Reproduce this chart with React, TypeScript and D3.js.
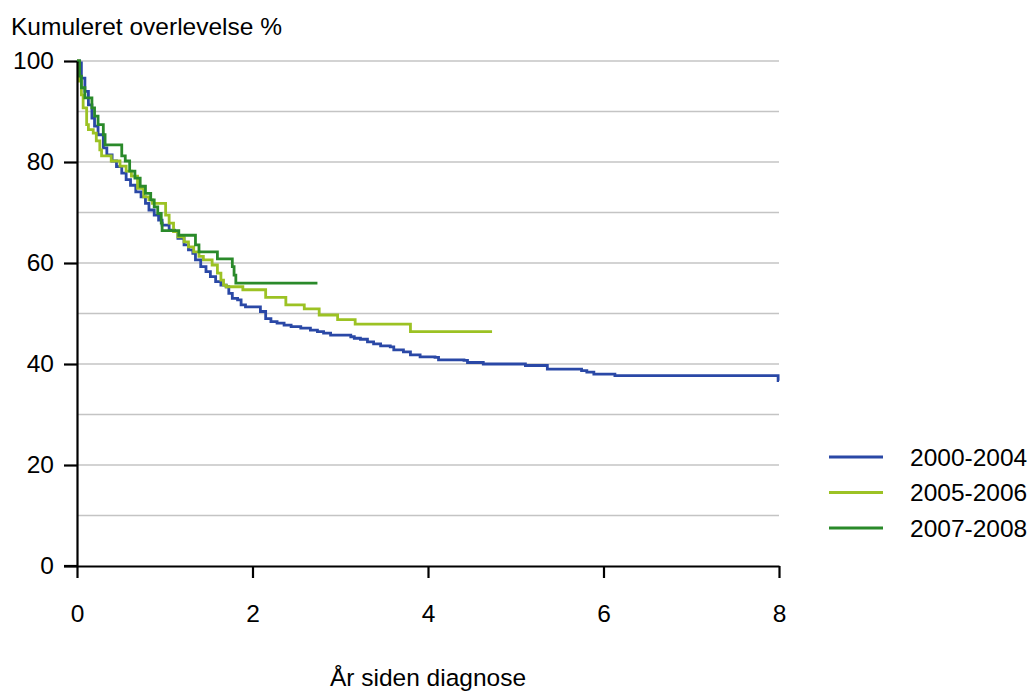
import React, { useEffect, useRef } from "react";
import * as d3 from "d3";

// Kaplan-Meier step data (years since diagnosis, survival %)
const timeA = [0, 0.03, 0.05, 0.09, 0.13, 0.17, 0.2, 0.24, 0.3, 0.34, 0.4, 0.45, 0.51, 0.56, 0.61, 0.67, 0.73, 0.78, 0.82, 0.88, 0.93, 0.97, 1.05, 1.11, 1.15, 1.22, 1.27, 1.32, 1.35, 1.41, 1.47, 1.52, 1.58, 1.64, 1.7, 1.73, 1.77, 1.83, 1.87, 1.92, 2.09, 2.15, 2.21, 2.28, 2.36, 2.44, 2.55, 2.66, 2.74, 2.81, 2.89, 3.12, 3.16, 3.23, 3.31, 3.38, 3.46, 3.57, 3.61, 3.72, 3.8, 3.91, 4.08, 4.12, 4.41, 4.45, 4.63, 5.11, 5.36, 5.75, 5.81, 5.89, 6.13, 7.99, 8.0];
const survA = [100, 99.6, 96.6, 94, 91.3, 88.7, 87.1, 85.4, 82.8, 81.4, 80.2, 79.1, 77.8, 76.5, 75.4, 74.1, 73.1, 71.8, 70.5, 69.5, 68.5, 67.5, 66.5, 66.2, 64.9, 63.6, 62.6, 61.9, 60.6, 59.3, 58.3, 57.3, 56.3, 55.6, 55.3, 54.0, 53.0, 52.7, 51.7, 51.3, 50.4, 49.0, 48.4, 48.1, 47.7, 47.4, 47.1, 46.7, 46.4, 46.1, 45.7, 45.4, 45.1, 44.9, 44.4, 44.0, 43.6, 43.4, 42.8, 42.4, 41.8, 41.4, 41.3, 40.8, 40.7, 40.3, 40.0, 39.7, 39.0, 38.7, 38.4, 38.0, 37.7, 36.7, 36.7];

const timeB = [0, 0.02, 0.05, 0.07, 0.11, 0.13, 0.185, 0.22, 0.26, 0.28, 0.39, 0.49, 0.56, 0.62, 0.69, 0.76, 0.82, 0.86, 1.01, 1.05, 1.1, 1.15, 1.22, 1.27, 1.33, 1.39, 1.44, 1.54, 1.6, 1.64, 1.67, 1.7, 1.89, 2.15, 2.38, 2.59, 2.76, 2.97, 3.17, 3.8, 4.73];
const survB = [100, 96, 93.3, 90.7, 87.4, 86.4, 85.7, 84.2, 82.4, 81.2, 80.2, 79.2, 78.2, 77.2, 74.8, 73.1, 72.5, 71.8, 69.5, 67.9, 66.2, 65.2, 64.2, 63.2, 62.2, 61.3, 60.6, 59.6, 58.0, 56.6, 55.6, 55.3, 54.7, 53.2, 51.7, 50.9, 49.7, 48.8, 47.9, 46.4, 46.4];

const timeC = [0, 0.03, 0.05, 0.09, 0.17, 0.2, 0.24, 0.3, 0.32, 0.51, 0.55, 0.6, 0.66, 0.72, 0.78, 0.84, 0.88, 0.92, 0.96, 0.97, 1.16, 1.35, 1.39, 1.6, 1.77, 1.79, 1.81, 2.74];
const survC = [100, 97, 94.7, 92.7, 90.7, 89.1, 87.4, 85.4, 83.4, 81.2, 80.2, 78.2, 76.8, 75.2, 73.8, 72.5, 71.1, 69.8, 67.9, 66.4, 65.5, 63.6, 62.2, 60.8, 59.3, 57.6, 56.0, 56.0];

const seriesNames = ["2000-2004", "2005-2006", "2007-2008"];
const seriesColors = ["#2a48a6", "#9cc224", "#2a8a2a"];
const xTicks = [0, 2, 4, 6, 8];
const yTicks = [0, 20, 40, 60, 80, 100];
const gridValues = [10, 20, 30, 40, 50, 60, 70, 80, 90, 100];

const App: React.FC = () => {
  const ref = useRef<SVGSVGElement | null>(null);

  useEffect(() => {
    const svg = d3.select(ref.current);
    svg.selectAll("*").remove();

    const font = "'Liberation Sans', Arial, sans-serif";
    const fontSize = 24.5;
    const left = 77;
    const right = 779;
    const top = 61;
    const bottom = 566;

    const xScale = d3.scaleLinear().domain([0, 8]).range([left, right]);
    const yScale = d3.scaleLinear().domain([0, 100]).range([bottom, top]);

    // grid
    svg
      .append("g")
      .selectAll("line")
      .data(gridValues)
      .join("line")
      .attr("x1", left)
      .attr("x2", right)
      .attr("y1", (d) => yScale(d))
      .attr("y2", (d) => yScale(d))
      .attr("stroke", "#c4c4c4")
      .attr("stroke-width", 1.6);

    // survival curves
    const line = d3
      .line<[number, number]>()
      .x((d) => xScale(d[0]))
      .y((d) => yScale(d[1]))
      .curve(d3.curveStepAfter);

    const allData = [
      d3.zip(timeA, survA),
      d3.zip(timeB, survB),
      d3.zip(timeC, survC),
    ] as [number, number][][];

    svg
      .append("g")
      .selectAll("path")
      .data(allData)
      .join("path")
      .attr("d", (d) => line(d) as string)
      .attr("fill", "none")
      .attr("stroke", (_d, i) => seriesColors[i])
      .attr("stroke-width", 2.8);

    // y axis
    const yAxis = svg
      .append("g")
      .attr("transform", `translate(${left},0)`)
      .call(d3.axisLeft(yScale).tickValues(yTicks).tickSize(13).tickPadding(10).tickSizeOuter(0));
    yAxis.select(".domain").attr("stroke", "#000").attr("stroke-width", 2.2);
    yAxis.selectAll(".tick line").attr("stroke", "#000").attr("stroke-width", 2.2);
    yAxis
      .selectAll(".tick text")
      .attr("font-family", font)
      .attr("font-size", fontSize)
      .attr("fill", "#000");

    // x axis
    const xAxis = svg
      .append("g")
      .attr("transform", `translate(0,${bottom})`)
      .call(
        d3
          .axisBottom(xScale)
          .tickValues(xTicks)
          .tickFormat(d3.format("d"))
          .tickSize(12)
          .tickPadding(27)
          .tickSizeOuter(0)
      );
    xAxis.select(".domain").attr("stroke", "#000").attr("stroke-width", 2.2);
    xAxis.selectAll(".tick line").attr("stroke", "#000").attr("stroke-width", 2.2);
    xAxis
      .selectAll(".tick text")
      .attr("font-family", font)
      .attr("font-size", fontSize)
      .attr("fill", "#000");
    // extend x axis line to the left under the y ticks
    svg
      .append("line")
      .attr("x1", left - 13)
      .attr("x2", left)
      .attr("y1", bottom)
      .attr("y2", bottom)
      .attr("stroke", "#000")
      .attr("stroke-width", 2.2);

    // titles
    svg
      .append("text")
      .attr("x", 11)
      .attr("y", 35)
      .attr("font-family", font)
      .attr("font-size", fontSize)
      .text("Kumuleret overlevelse %");

    svg
      .append("text")
      .attr("x", (left + right) / 2)
      .attr("y", 686)
      .attr("text-anchor", "middle")
      .attr("font-family", font)
      .attr("font-size", fontSize)
      .text("År siden diagnose");

    // legend
    const legend = svg
      .append("g")
      .selectAll("g")
      .data(seriesNames)
      .join("g")
      .attr("transform", (_d, i) => `translate(829,${457 + i * 35.5})`);
    legend
      .append("line")
      .attr("x1", 0)
      .attr("x2", 54)
      .attr("stroke", (_d, i) => seriesColors[i])
      .attr("stroke-width", 2.8);
    legend
      .append("text")
      .attr("x", 81)
      .attr("dy", "0.35em")
      .attr("font-family", font)
      .attr("font-size", fontSize)
      .text((d) => d);
  }, []);

  return (
    <svg
      ref={ref}
      width={1033}
      height={691}
      style={{ position: "absolute", left: 0, top: 0, background: "#fff" }}
    />
  );
};

export default App;
